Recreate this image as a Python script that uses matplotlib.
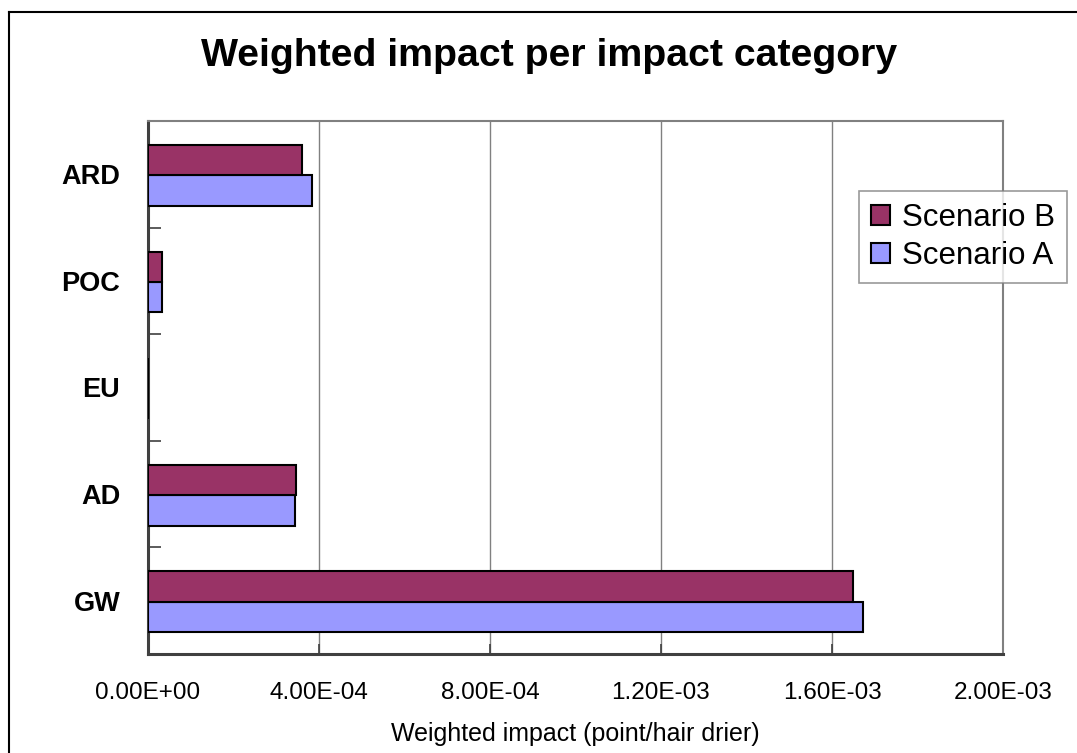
import matplotlib

matplotlib.use("Agg")
import matplotlib.pyplot as plt
from matplotlib.lines import Line2D
from matplotlib.patches import Patch
from matplotlib.ticker import FixedLocator, FuncFormatter, MultipleLocator

plt.rcParams["font.family"] = ["Liberation Sans", "DejaVu Sans"]

# impact categories, bottom to top
categories = ["GW", "AD", "EU", "POC", "ARD"]
scenario_a = [1.673e-3, 3.45e-4, 0.0, 3.3e-5, 3.84e-4]
scenario_b = [1.648e-3, 3.46e-4, 0.0, 3.3e-5, 3.60e-4]

COLOR_A = "#9999FF"
COLOR_B = "#993366"

fig = plt.figure(figsize=(10.77, 7.53), dpi=100)
fig.patch.set_facecolor("white")
ax = fig.add_axes([0.1374, 0.1315, 0.7939, 0.7078])

pos = range(len(categories))
h = 0.285
ax.barh([p - h / 2 - 0.01 for p in pos], scenario_a, height=h, color=COLOR_A,
        edgecolor="black", linewidth=1.5, zorder=3)
ax.barh([p + h / 2 - 0.01 for p in pos], scenario_b, height=h, color=COLOR_B,
        edgecolor="black", linewidth=1.5, zorder=3)

ax.set_xlim(0, 2.0e-3)
ax.set_ylim(-0.5, len(categories) - 0.5)
ax.xaxis.set_major_locator(MultipleLocator(4.0e-4))
ax.xaxis.set_major_formatter(FuncFormatter(lambda v, _: f"{v:.2E}"))
ax.grid(axis="x", color="#808080", linewidth=1.0, zorder=0)

ax.set_yticks(list(pos))
ax.set_yticklabels(categories, fontsize=19.5, fontweight="bold")
ax.yaxis.set_minor_locator(FixedLocator([p + 0.5 for p in pos][:-1]))
ax.tick_params(axis="y", which="major", length=0, pad=20)
ax.tick_params(axis="y", which="minor", direction="in", length=9, width=1.2, color="#404040")
ax.tick_params(axis="x", direction="in", length=7, width=1.2, color="#404040",
               labelsize=17.5, pad=20)

for side in ("left", "bottom"):
    ax.spines[side].set_color("#404040")
    ax.spines[side].set_linewidth(2.2)
for side in ("top", "right"):
    ax.spines[side].set_color("#808080")
    ax.spines[side].set_linewidth(1.5)

ax.set_xlabel("Weighted impact (point/hair drier)", fontsize=18, labelpad=13)

fig.text(0.5102, 1 - 56 / 753, "Weighted impact per impact category",
         ha="center", va="center", fontsize=28.3, fontweight="bold")

handles = [Patch(facecolor=COLOR_B, edgecolor="black", linewidth=1.5, label="Scenario B"),
           Patch(facecolor=COLOR_A, edgecolor="black", linewidth=1.5, label="Scenario A")]
leg = fig.legend(handles=handles, loc="upper left",
                 bbox_to_anchor=(859 / 1077, 1 - 191 / 753),
                 fontsize=22.5, frameon=True, fancybox=False,
                 handlelength=0.6, handleheight=0.6, handletextpad=0.4,
                 borderpad=0.38, labelspacing=0.25, borderaxespad=0)
leg.get_frame().set_edgecolor("#808080")
leg.get_frame().set_linewidth(1.2)

# chart area border (left and top edges)
x0, y0 = 9 / 1077, 1 - 12 / 753
fig.add_artist(Line2D([x0, x0], [0, y0], color="black", linewidth=1.5))
fig.add_artist(Line2D([x0, 1], [y0, y0], color="black", linewidth=1.5))

fig.savefig("out.png", dpi=100)
